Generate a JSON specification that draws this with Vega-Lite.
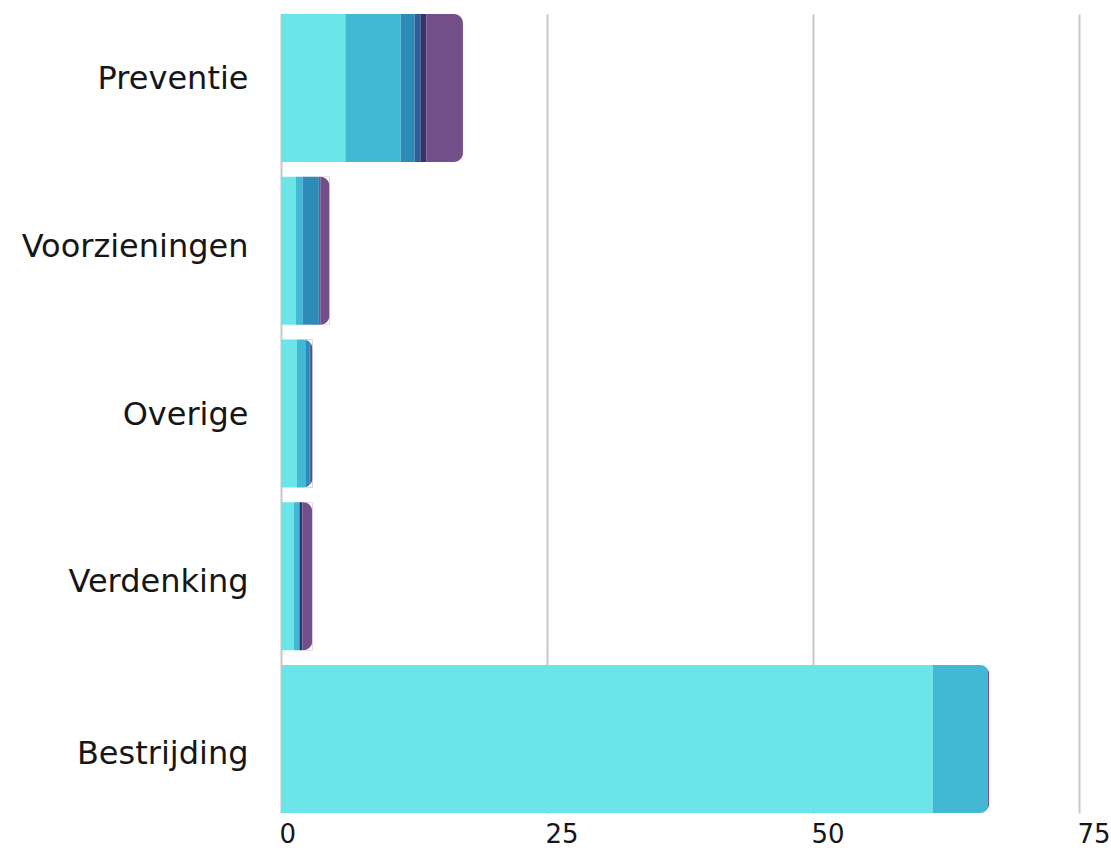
{
  "$schema": "https://vega.github.io/schema/vega-lite/v6.json",
  "width": 798,
  "height": 799,
  "autosize": {"type": "none"},
  "padding": {"left": 281, "top": 14, "right": 32, "bottom": 40},
  "background": "white",
  "config": {"view": {"stroke": null}},
  "data": {
    "values": [
      {"cat": "Preventie", "seg": "s1", "value": 6.05},
      {"cat": "Preventie", "seg": "s2", "value": 5.2},
      {"cat": "Preventie", "seg": "s3", "value": 1.3},
      {"cat": "Preventie", "seg": "s4", "value": 0.55},
      {"cat": "Preventie", "seg": "s5", "value": 0.55},
      {"cat": "Preventie", "seg": "s6", "value": 3.45},
      {"cat": "Voorzieningen", "seg": "s1", "value": 1.4},
      {"cat": "Voorzieningen", "seg": "s2", "value": 0.65},
      {"cat": "Voorzieningen", "seg": "s3", "value": 1.5},
      {"cat": "Voorzieningen", "seg": "s4", "value": 0.05},
      {"cat": "Voorzieningen", "seg": "s5", "value": 0.1},
      {"cat": "Voorzieningen", "seg": "s6", "value": 0.85},
      {"cat": "Overige", "seg": "s1", "value": 1.5},
      {"cat": "Overige", "seg": "s2", "value": 0.85},
      {"cat": "Overige", "seg": "s3", "value": 0.35},
      {"cat": "Overige", "seg": "s4", "value": 0.1},
      {"cat": "Overige", "seg": "s5", "value": 0.1},
      {"cat": "Overige", "seg": "s6", "value": 0.05},
      {"cat": "Verdenking", "seg": "s1", "value": 1.2},
      {"cat": "Verdenking", "seg": "s2", "value": 0.5},
      {"cat": "Verdenking", "seg": "s3", "value": 0.02},
      {"cat": "Verdenking", "seg": "s4", "value": 0.02},
      {"cat": "Verdenking", "seg": "s5", "value": 0.28},
      {"cat": "Verdenking", "seg": "s6", "value": 0.92},
      {"cat": "Bestrijding", "seg": "s1", "value": 61.25},
      {"cat": "Bestrijding", "seg": "s2", "value": 5.2},
      {"cat": "Bestrijding", "seg": "s3", "value": 0},
      {"cat": "Bestrijding", "seg": "s4", "value": 0},
      {"cat": "Bestrijding", "seg": "s5", "value": 0},
      {"cat": "Bestrijding", "seg": "s6", "value": 0.1}
    ]
  },
  "encoding": {
    "y": {
      "field": "cat",
      "type": "nominal",
      "sort": ["Preventie", "Voorzieningen", "Overige", "Verdenking", "Bestrijding"],
      "scale": {"paddingInner": 0.09, "paddingOuter": 0},
      "axis": {
        "title": null,
        "ticks": false,
        "domain": false,
        "labelFont": "DejaVu Sans",
        "labelFontSize": 32,
        "labelColor": "#161616",
        "labelPadding": 33,
        "labelLimit": 400,
        "labelOffset": {
          "condition": [
            {"test": "datum.value === 'Preventie'", "value": -9},
            {"test": "datum.value === 'Voorzieningen'", "value": -4},
            {"test": "datum.value === 'Verdenking'", "value": 6},
            {"test": "datum.value === 'Bestrijding'", "value": 15}
          ],
          "value": 1
        }
      }
    }
  },
  "layer": [
    {
      "mark": {"type": "bar"},
      "encoding": {
        "x": {
          "field": "value",
          "type": "quantitative",
          "stack": "zero",
          "scale": {"domain": [0, 75], "nice": false},
          "axis": {
            "values": [0, 25, 50, 75],
            "title": null,
            "grid": true,
            "gridColor": "#c8c8c8",
            "gridWidth": 2,
            "domain": false,
            "ticks": false,
            "labelAlign": "left",
            "labelFont": "DejaVu Sans",
            "labelFontSize": 26,
            "labelColor": "#161616",
            "labelPadding": 8,
            "labelOffset": -2,
            "labelFlush": false
          }
        },
        "color": {
          "field": "seg",
          "type": "nominal",
          "scale": {
            "domain": ["s1", "s2", "s3", "s4", "s5", "s6"],
            "range": ["#6ce5e8", "#42b8d5", "#2d8bba", "#2f5f98", "#31356e", "#734f8a"]
          },
          "legend": null
        },
        "order": {"field": "seg", "type": "ordinal"}
      }
    },
    {
      "mark": {
        "type": "point",
        "filled": true,
        "color": "white",
        "opacity": 1,
        "strokeWidth": 0,
        "size": 21930,
        "shape": "M 0 -1 L 0 -0.8785 A 0.1215 0.1215 0 0 0 -0.1215 -1 Z M 0 1 L -0.1215 1 A 0.1215 0.1215 0 0 0 0 0.8785 Z"
      },
      "encoding": {
        "x": {"aggregate": "sum", "field": "value", "type": "quantitative"}
      }
    }
  ]
}
